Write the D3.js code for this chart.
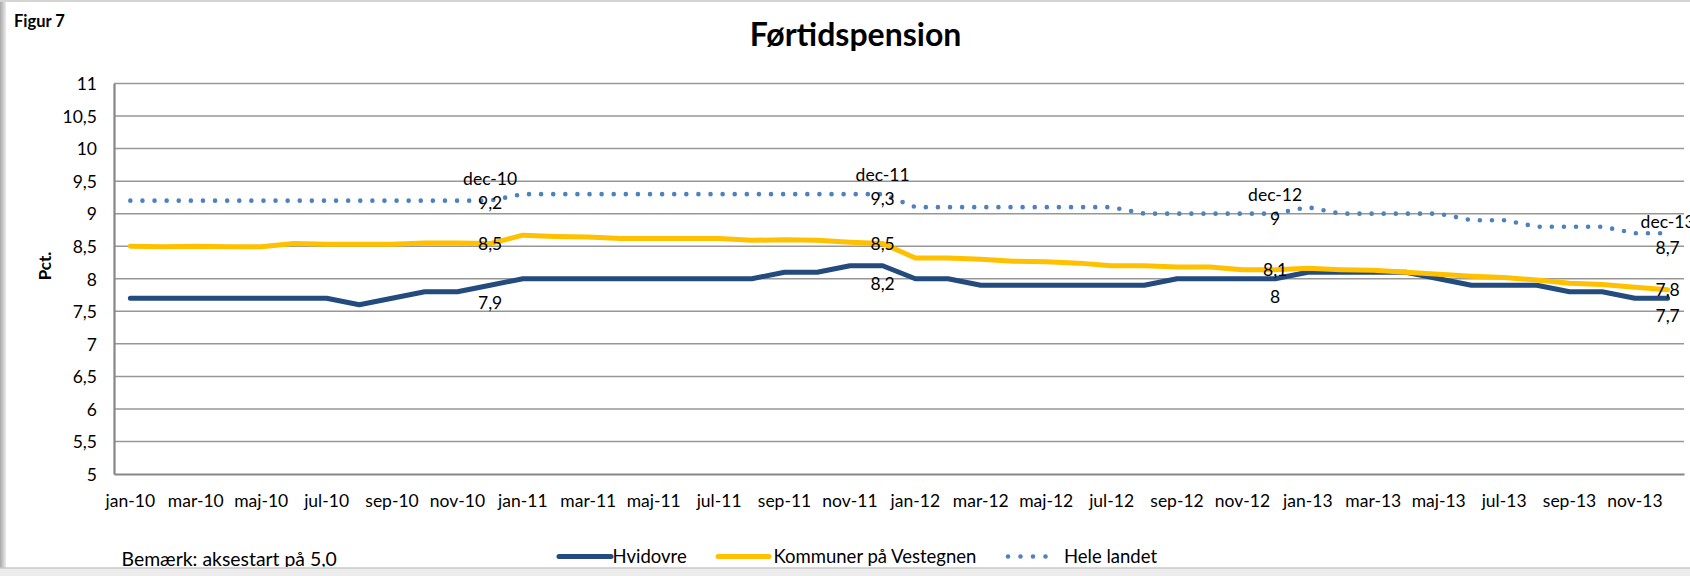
<!DOCTYPE html>
<html>
<head>
<meta charset="utf-8">
<script src="https://cdn.jsdelivr.net/npm/d3@7/dist/d3.min.js"></script>
<style>
  html, body { margin: 0; padding: 0; background: #ffffff; }
  svg { display: block; font-family: Lato, "Open Sans", sans-serif; }
</style>
</head>
<body>
<svg id="chart" width="1690" height="576"></svg>
<script>
// ---------- data ----------
const months = [
  "jan-10","feb-10","mar-10","apr-10","maj-10","jun-10","jul-10","aug-10","sep-10","okt-10","nov-10","dec-10",
  "jan-11","feb-11","mar-11","apr-11","maj-11","jun-11","jul-11","aug-11","sep-11","okt-11","nov-11","dec-11",
  "jan-12","feb-12","mar-12","apr-12","maj-12","jun-12","jul-12","aug-12","sep-12","okt-12","nov-12","dec-12",
  "jan-13","feb-13","mar-13","apr-13","maj-13","jun-13","jul-13","aug-13","sep-13","okt-13","nov-13","dec-13"
];
const hvidovre = [
  7.7,7.7,7.7,7.7,7.7,7.7,7.7,7.6,7.7,7.8,7.8,7.9,
  8.0,8.0,8.0,8.0,8.0,8.0,8.0,8.0,8.1,8.1,8.2,8.2,
  8.0,8.0,7.9,7.9,7.9,7.9,7.9,7.9,8.0,8.0,8.0,8.0,
  8.1,8.1,8.1,8.1,8.0,7.9,7.9,7.9,7.8,7.8,7.7,7.7
];
const vestegnen = [
  8.50,8.49,8.50,8.49,8.49,8.54,8.53,8.53,8.53,8.55,8.55,8.54,
  8.67,8.65,8.64,8.62,8.62,8.62,8.62,8.59,8.60,8.59,8.56,8.54,
  8.32,8.32,8.30,8.27,8.26,8.24,8.20,8.20,8.18,8.18,8.14,8.14,
  8.16,8.14,8.13,8.10,8.07,8.04,8.02,7.98,7.93,7.91,7.87,7.83
];
const heleLandet = [
  9.2,9.2,9.2,9.2,9.2,9.2,9.2,9.2,9.2,9.2,9.2,9.2,
  9.3,9.3,9.3,9.3,9.3,9.3,9.3,9.3,9.3,9.3,9.3,9.3,
  9.1,9.1,9.1,9.1,9.1,9.1,9.1,9.0,9.0,9.0,9.0,9.0,
  9.1,9.0,9.0,9.0,9.0,8.9,8.9,8.8,8.8,8.8,8.7,8.7
];
const seriesNames = ["Hvidovre", "Kommuner på Vestegnen", "Hele landet"];
const yTicks = [5, 5.5, 6, 6.5, 7, 7.5, 8, 8.5, 9, 9.5, 10, 10.5, 11];
const labelMonths = ["dec-10", "dec-11", "dec-12", "dec-13"];
const xTickMonths = months.filter((m, i) => i % 2 === 0);

const titleText = "Førtidspension";
const figText = "Figur 7";
const yTitle = "Pct.";
const noteText = "Bemærk: aksestart på 5,0";

// ---------- layout ----------
const W = 1690, H = 576;
const plot = { left: 114, right: 1684, top: 83.5, bottom: 474 };
const colors = { hv: "#244B7E", ve: "#FFC000", hl: "#4F81BD", grid: "#979797", axis: "#868686" };
const fmt = v => String(+(+v).toFixed(1)).replace(".", ",");
// vertical offsets of the "Hele landet" two-line labels (name, value), per labelled month
const hlLabelOffsets = [[-16, 8], [-13, 11], [-13, 11], [-5, 21]];

const svg = d3.select("#chart");

// frame
svg.append("rect").attr("x", 0).attr("y", 0).attr("width", W).attr("height", H).attr("fill", "#ffffff");
const defs = svg.append("defs");
const lg = defs.append("linearGradient").attr("id", "lshadow").attr("x1", 0).attr("x2", 1);
lg.append("stop").attr("offset", 0).attr("stop-color", "#a8a8a8");
lg.append("stop").attr("offset", 1).attr("stop-color", "#ececec");
defs.append("clipPath").attr("id", "clipframe").append("rect")
  .attr("x", 0).attr("y", 0).attr("width", W).attr("height", 567);

svg.append("rect").attr("x", 0).attr("y", 0).attr("width", 6).attr("height", H).attr("fill", "url(#lshadow)");
svg.append("line").attr("x1", 0).attr("x2", W).attr("y1", 1).attr("y2", 1).attr("stroke", "#d4d4d4").attr("stroke-width", 2);
svg.append("rect").attr("x", 0).attr("y", 568).attr("width", W).attr("height", 8).attr("fill", "#ececec");
svg.append("line").attr("x1", 0).attr("x2", W).attr("y1", 568).attr("y2", 568).attr("stroke", "#c8c8c8").attr("stroke-width", 1.5);

const g = svg.append("g").attr("clip-path", "url(#clipframe)");

// scales
const x = d3.scaleBand().domain(months).range([plot.left, plot.right]).paddingInner(0).paddingOuter(0);
const xc = m => x(m) + x.bandwidth() / 2;
const y = d3.scaleLinear().domain([5, 11]).range([plot.bottom, plot.top]);

// gridlines
g.append("g").selectAll("line").data(yTicks.filter(v => v > 5)).join("line")
  .attr("x1", plot.left).attr("x2", plot.right)
  .attr("y1", d => y(d)).attr("y2", d => y(d))
  .attr("stroke", colors.grid).attr("stroke-width", 1.5);

// y axis
const yAxis = d3.axisLeft(y).tickValues(yTicks).tickSize(0).tickPadding(17).tickFormat(fmt);
const yg = g.append("g").attr("transform", `translate(${plot.left},0)`).call(yAxis);
yg.select(".domain").attr("stroke", colors.axis).attr("stroke-width", 2.2);
yg.selectAll("text").attr("font-size", 17.5).attr("fill", "#000").attr("font-family", "Lato").attr("dy", "0.36em");

// x axis
const xAxis = d3.axisBottom(x).tickValues(xTickMonths).tickSize(0).tickPadding(27);
const xg = g.append("g").attr("transform", `translate(0,${plot.bottom})`).call(xAxis);
xg.select(".domain").attr("stroke", colors.axis).attr("stroke-width", 2.2);
xg.selectAll("text").attr("font-size", 17.5).attr("fill", "#000").attr("font-family", "Lato").attr("dy", "0.35em");

// lines
const line = d3.line().x((d, i) => xc(months[i])).y(d => y(d));
g.append("path").datum(hvidovre).attr("d", line).attr("fill", "none")
  .attr("stroke", colors.hv).attr("stroke-width", 5).attr("stroke-linejoin", "round").attr("stroke-linecap", "round");
g.append("path").datum(vestegnen).attr("d", line).attr("fill", "none")
  .attr("stroke", colors.ve).attr("stroke-width", 5).attr("stroke-linejoin", "round").attr("stroke-linecap", "round");
g.append("path").datum(heleLandet).attr("d", line).attr("fill", "none")
  .attr("stroke", colors.hl).attr("stroke-width", 4.6).attr("stroke-linecap", "round")
  .attr("stroke-dasharray", "0 12.1");

// data labels
const lblFont = 17.5;
const lblG = svg.append("g").attr("font-family", "Lato").attr("font-size", lblFont).attr("fill", "#000").attr("text-anchor", "middle");
labelMonths.forEach((m, k) => {
  const i = months.indexOf(m);
  const cx = xc(m);
  const off = hlLabelOffsets[k];
  // Hvidovre: below
  lblG.append("text").attr("x", cx).attr("y", y(hvidovre[i]) + 24).text(fmt(hvidovre[i]));
  // Vestegnen: centred
  lblG.append("text").attr("x", cx).attr("y", y(vestegnen[i]) + 6).text(fmt(vestegnen[i]));
  // Hele landet: category name + value
  lblG.append("text").attr("x", cx).attr("y", y(heleLandet[i]) + off[0]).text(m);
  lblG.append("text").attr("x", cx).attr("y", y(heleLandet[i]) + off[1]).text(fmt(heleLandet[i]));
});

// titles
svg.append("text").attr("x", 855.5).attr("y", 46).attr("text-anchor", "middle")
  .attr("font-family", "Lato").attr("font-weight", "bold").attr("font-size", 32).attr("fill", "#000").text(titleText);
svg.append("text").attr("x", 14).attr("y", 27)
  .attr("font-family", "Lato").attr("font-weight", "bold").attr("font-size", 16.5).attr("fill", "#000").text(figText);
svg.append("text").attr("transform", "translate(50.5,266) rotate(-90)").attr("text-anchor", "middle")
  .attr("font-family", "Lato").attr("font-weight", "bold").attr("font-size", 17).attr("fill", "#000").text(yTitle);

// note
g.append("text").attr("x", 121.5).attr("y", 566).attr("font-family", "Lato").attr("font-size", 19.4).attr("fill", "#000").text(noteText);

// legend
const legend = [
  { name: seriesNames[0], color: colors.hv, x0: 559, x1: 611, dash: null, w: 5, tx: 612.5 },
  { name: seriesNames[1], color: colors.ve, x0: 718, x1: 769, dash: null, w: 5, tx: 773.5 },
  { name: seriesNames[2], color: colors.hl, x0: 1008, x1: 1058, dash: "0 12.5", w: 4.6, tx: 1064 }
];
const lgG = svg.append("g");
legend.forEach(d => {
  const l = lgG.append("line").attr("x1", d.x0).attr("x2", d.x1).attr("y1", 556.5).attr("y2", 556.5)
    .attr("stroke", d.color).attr("stroke-width", d.w).attr("stroke-linecap", "round");
  if (d.dash) l.attr("stroke-dasharray", d.dash);
  lgG.append("text").attr("x", d.tx).attr("y", 563).attr("font-family", "Lato").attr("font-size", 18.5)
    .attr("fill", "#000").text(d.name);
});
</script>
</body>
</html>
